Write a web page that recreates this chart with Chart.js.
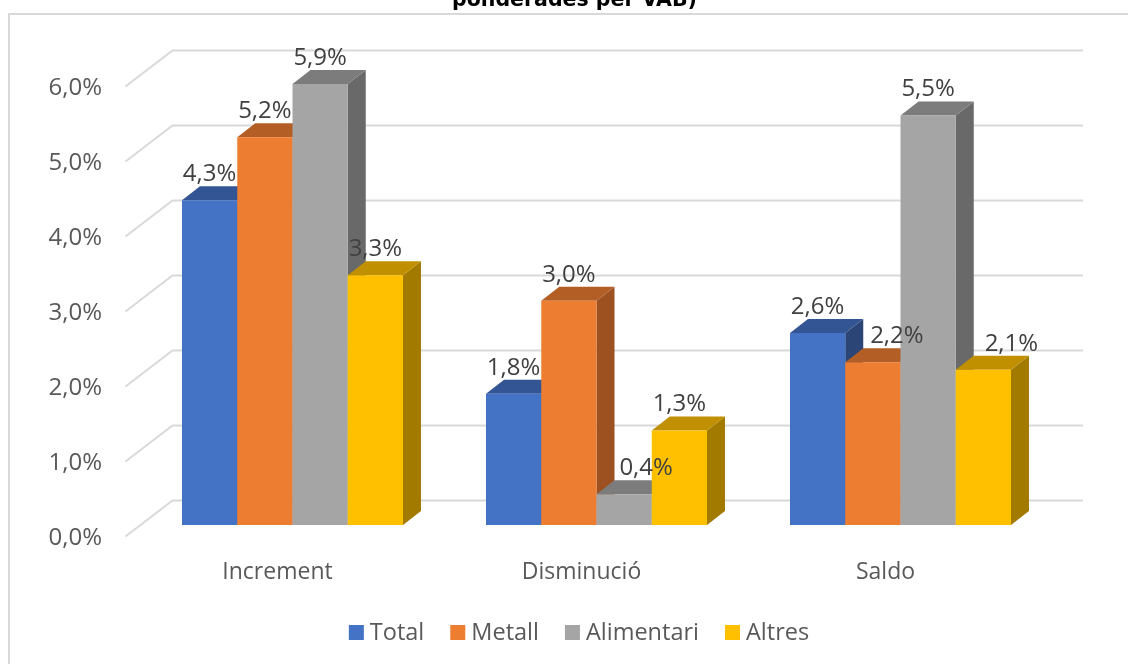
<!DOCTYPE html>
<html lang="ca">
<head>
    <meta charset="UTF-8">
    <title>Increment, disminució i saldo</title>
    <script src="https://cdn.jsdelivr.net/npm/chart.js"></script>
    <style>
        html, body { margin: 0; padding: 0; background: #fff; overflow: hidden; }
        canvas { display: block; }
    </style>
</head>
<body>
    <canvas id="chart" width="1128" height="664"></canvas>
    <script>
        const categories = ['Increment', 'Disminució', 'Saldo'];
        const total = [4.33, 1.75, 2.56];
        const metall = [5.17, 2.99, 2.17];
        const alimentari = [5.88, 0.41, 5.46];
        const altres = [3.33, 1.26, 2.07];

        const frontColors = ['#4472C4', '#ED7D31', '#A5A5A5', '#FFC000'];
        const topColors = ['#335593', '#B35E25', '#7C7C7C', '#C19000'];
        const sideColors = ['#2A4576', '#9E5120', '#696969', '#A37A00'];

        // labels that were moved by hand in the original, per dataset and category
        const labelNudge = [[0, 0, 0], [0, 0, 24], [0, 22, 0], [0, 0, 28]];

        const FONT = '"Open Sans", sans-serif';
        const GRID = '#D9D9D9';
        const DEPTH_X = 18, DEPTH_Y = 14;

        const pct = v => v.toFixed(1).replace('.', ',') + '%';

        // Excel style 3D box: walls, bars and labels on top of the normal scales
        const bars3d = {
            id: 'bars3d',
            beforeDraw(chart) {
                const ctx = chart.ctx;
                ctx.save();
                ctx.strokeStyle = GRID;
                ctx.lineWidth = 2;
                ctx.beginPath();
                ctx.moveTo(1128, 14);
                ctx.lineTo(9, 14);
                ctx.lineTo(9, 664);
                ctx.stroke();

                const y = chart.scales.y;
                y.ticks.forEach(t => {
                    const py = y.getPixelForValue(t.value);
                    ctx.beginPath();
                    ctx.moveTo(125.5, py + 11.5);
                    ctx.lineTo(172.5, py - 24.5);
                    ctx.lineTo(1083, py - 24.5);
                    ctx.stroke();
                });
                ctx.restore();
            },
            beforeDatasetsDraw(chart) {
                const ctx = chart.ctx;
                categories.forEach((c, i) => {
                    chart.data.datasets.forEach((ds, d) => {
                        const bar = chart.getDatasetMeta(d).data[i];
                        const l = bar.x - bar.width / 2, r = bar.x + bar.width / 2;
                        ctx.fillStyle = sideColors[d];
                        ctx.beginPath();
                        ctx.moveTo(r, bar.y);
                        ctx.lineTo(r + DEPTH_X, bar.y - DEPTH_Y);
                        ctx.lineTo(r + DEPTH_X, bar.base - DEPTH_Y);
                        ctx.lineTo(r, bar.base);
                        ctx.closePath();
                        ctx.fill();
                        ctx.fillStyle = topColors[d];
                        ctx.beginPath();
                        ctx.moveTo(l, bar.y);
                        ctx.lineTo(l + DEPTH_X, bar.y - DEPTH_Y);
                        ctx.lineTo(r + DEPTH_X, bar.y - DEPTH_Y);
                        ctx.lineTo(r, bar.y);
                        ctx.closePath();
                        ctx.fill();
                        bar.draw(ctx);
                    });
                });
                return false;
            },
            afterDraw(chart) {
                const ctx = chart.ctx;
                ctx.save();
                ctx.textBaseline = 'middle';

                // data labels
                ctx.font = '24px ' + FONT;
                ctx.fillStyle = '#404040';
                ctx.textAlign = 'center';
                chart.data.datasets.forEach((ds, d) => {
                    chart.getDatasetMeta(d).data.forEach((bar, i) => {
                        ctx.fillText(pct(ds.data[i]), bar.x + labelNudge[d][i], bar.y - 26);
                    });
                });

                // legend
                ctx.font = '23.5px ' + FONT;
                ctx.textAlign = 'left';
                const widths = chart.data.datasets.map(ds => 21 + ctx.measureText(ds.label).width);
                const full = widths.reduce((a, b) => a + b, 0) + 26 * (widths.length - 1);
                let x = 579 - full / 2;
                chart.data.datasets.forEach((ds, d) => {
                    ctx.fillStyle = frontColors[d];
                    ctx.fillRect(x, 625, 15, 15);
                    ctx.fillStyle = '#595959';
                    ctx.fillText(ds.label, x + 21, 633);
                    x += widths[d] + 26;
                });

                // title, cut off by the top of the picture as in the original
                ctx.font = 'bold 20.5px "DejaVu Sans", sans-serif';
                ctx.fillStyle = '#000';
                ctx.textAlign = 'center';
                ctx.textBaseline = 'alphabetic';
                ctx.fillText('ponderades per VAB)', 574.5, 6);
                ctx.restore();
            }
        };

        new Chart(document.getElementById('chart'), {
            type: 'bar',
            data: {
                labels: categories,
                datasets: [
                    { label: 'Total', data: total, backgroundColor: frontColors[0] },
                    { label: 'Metall', data: metall, backgroundColor: frontColors[1] },
                    { label: 'Alimentari', data: alimentari, backgroundColor: frontColors[2] },
                    { label: 'Altres', data: altres, backgroundColor: frontColors[3] }
                ]
            },
            options: {
                responsive: false,
                animation: false,
                categoryPercentage: 0.727,
                barPercentage: 1,
                layout: { autoPadding: false, padding: { left: 0, right: 75.5, top: 75, bottom: 0 } },
                plugins: {
                    legend: { display: false },
                    tooltip: { enabled: false },
                    title: { display: false }
                },
                scales: {
                    x: {
                        grid: { display: false },
                        border: { display: false },
                        afterFit(scale) { scale.height = 139; },
                        ticks: {
                            color: '#595959',
                            font: { family: FONT, size: 23 },
                            padding: 26,
                            labelOffset: -15,
                            maxRotation: 0
                        }
                    },
                    y: {
                        min: 0,
                        max: 6,
                        grid: { display: false, drawTicks: false },
                        border: { display: false },
                        afterFit(scale) { scale.width = 140.5; },
                        ticks: {
                            stepSize: 1,
                            color: '#595959',
                            font: { family: FONT, size: 24 },
                            padding: 38.5,
                            labelOffset: 13.5,
                            callback: v => pct(v)
                        }
                    }
                }
            },
            plugins: [bars3d]
        });
    </script>
</body>
</html>
